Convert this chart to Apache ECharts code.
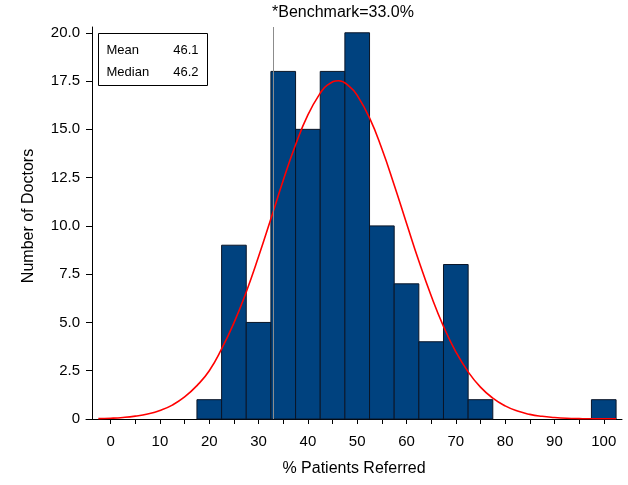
<!DOCTYPE html>
<html>
<head>
<meta charset="utf-8">
<script src="https://cdn.jsdelivr.net/npm/echarts@6/dist/echarts.min.js"></script>
<style>
  html, body { margin: 0; padding: 0; background: #fff; }
  #chart { width: 628px; height: 485px; }
</style>
</head>
<body>
<div id="chart"></div>
<script>
// histogram bins (5 wide) and doctor counts
var binStart = [17.5, 22.5, 27.5, 32.5, 37.5, 42.5, 47.5, 52.5, 57.5, 62.5, 67.5, 72.5, 97.5];
var binCount = [1, 9, 5, 18, 15, 18, 20, 10, 7, 4, 8, 1, 1];
var binWidth = 5;

// fitted normal curve
var curveX = [-2.5, 0, 2.5, 5, 7.5, 10, 12.5, 15, 17.5, 20, 22.5, 25, 27.5, 30, 32.5, 35, 37.5, 40,
  42.5, 44, 46.2, 48.5, 50, 52.5, 55, 57.5, 60, 62.5, 65, 67.5, 70, 72.5, 75, 77.5, 80, 82.5, 85,
  87.5, 90, 92.5, 95, 97.5, 100, 102.5];
var curveY = [0.02, 0.04, 0.08, 0.15, 0.26, 0.44, 0.72, 1.14, 1.73, 2.5, 3.63, 4.98, 6.58, 8.41, 10.37, 12.36, 14.2, 15.75,
  16.87, 17.3, 17.52, 17.2, 16.76, 15.59, 13.99, 12.12, 10.14, 8.18, 6.38, 4.8, 3.48, 2.44, 1.65, 1.08, 0.68, 0.41, 0.24,
  0.14, 0.08, 0.04, 0.02, 0.01, 0.01, 0.01];

var xTicks = [0, 5, 10, 15, 20, 25, 30, 35, 40, 45, 50, 55, 60, 65, 70, 75, 80, 85, 90, 95, 100];
var xLabels = [0, 10, 20, 30, 40, 50, 60, 70, 80, 90, 100];
var yTicks = [0, 2.5, 5, 7.5, 10, 12.5, 15, 17.5, 20];

var benchmark = 33.0;
var stats = [['Mean', '46.1'], ['Median', '46.2']];

var myChart = echarts.init(document.getElementById('chart'));
var FONT = 'Liberation Sans, Arial, sans-serif';

var barData = [];
for (var i = 0; i < binStart.length; i++) {
  barData.push([binStart[i], binStart[i] + binWidth, binCount[i]]);
}
var curveData = curveX.map(function (x, i) { return [x, curveY[i]]; });

var option = {
  animation: false,
  grid: { left: 86, right: 6, top: 27, bottom: 66 },
  xAxis: {
    type: 'value',
    min: -5,
    max: 103.7,
    name: '% Patients Referred',
    nameLocation: 'middle',
    nameGap: 42,
    nameTextStyle: { fontFamily: FONT, fontSize: 16, color: '#000' },
    axisLine: { show: true, onZero: false, lineStyle: { color: '#000', width: 1 } },
    axisTick: { show: true, length: 5, customValues: xTicks, lineStyle: { color: '#000' } },
    axisLabel: { customValues: xLabels, margin: 15, fontFamily: FONT, fontSize: 15, color: '#000' },
    splitLine: { show: false }
  },
  yAxis: {
    type: 'value',
    min: 0,
    max: 20.3,
    offset: -6,
    name: 'Number of Doctors',
    nameLocation: 'middle',
    nameGap: 55,
    nameRotate: 90,
    nameTextStyle: { fontFamily: FONT, fontSize: 16, color: '#000', padding: [0, 0, 0, 14] },
    axisLine: { show: true, onZero: false, lineStyle: { color: '#000', width: 1 } },
    axisTick: { show: true, length: 6, customValues: yTicks, lineStyle: { color: '#000' } },
    axisLabel: {
      customValues: yTicks, margin: 12, fontFamily: FONT, fontSize: 15, color: '#000',
      formatter: function (v) { return v === 0 ? '0' : v.toFixed(1); }
    },
    splitLine: { show: false }
  },
  series: [
    {
      type: 'custom',
      data: barData,
      renderItem: function (params, api) {
        var p1 = api.coord([api.value(0), api.value(2)]);
        var p2 = api.coord([api.value(1), 0]);
        return {
          type: 'rect',
          shape: { x: p1[0], y: p1[1], width: p2[0] - p1[0], height: p2[1] - p1[1] },
          style: { fill: '#00427f', stroke: '#0a1628', lineWidth: 1 }
        };
      },
      z: 2
    },
    {
      type: 'line',
      data: curveData,
      smooth: true,
      showSymbol: false,
      lineStyle: { color: '#ff0000', width: 1.6 },
      z: 4,
      markLine: {
        silent: true,
        symbol: 'none',
        label: { show: false },
        lineStyle: { color: '#8c8c8c', width: 1, type: 'solid' },
        data: [{ xAxis: benchmark }]
      }
    }
  ],
  graphic: [
    {
      type: 'text',
      left: 272,
      top: 5,
      style: { text: '*Benchmark=' + benchmark.toFixed(1) + '%', font: '16px ' + FONT, fill: '#000' }
    },
    {
      type: 'group',
      left: 98,
      top: 33,
      children: [
        { type: 'rect', shape: { x: 0, y: 0, width: 109, height: 52 }, style: { fill: '#fff', stroke: '#000', lineWidth: 1 } },
        { type: 'text', x: 8, y: 10, style: { text: stats[0][0], font: '13px ' + FONT, fill: '#000' } },
        { type: 'text', x: 100, y: 10, style: { text: stats[0][1], font: '13px ' + FONT, fill: '#000', align: 'right' } },
        { type: 'text', x: 8, y: 32, style: { text: stats[1][0], font: '13px ' + FONT, fill: '#000' } },
        { type: 'text', x: 100, y: 32, style: { text: stats[1][1], font: '13px ' + FONT, fill: '#000', align: 'right' } }
      ]
    }
  ]
};

myChart.setOption(option);
</script>
</body>
</html>
